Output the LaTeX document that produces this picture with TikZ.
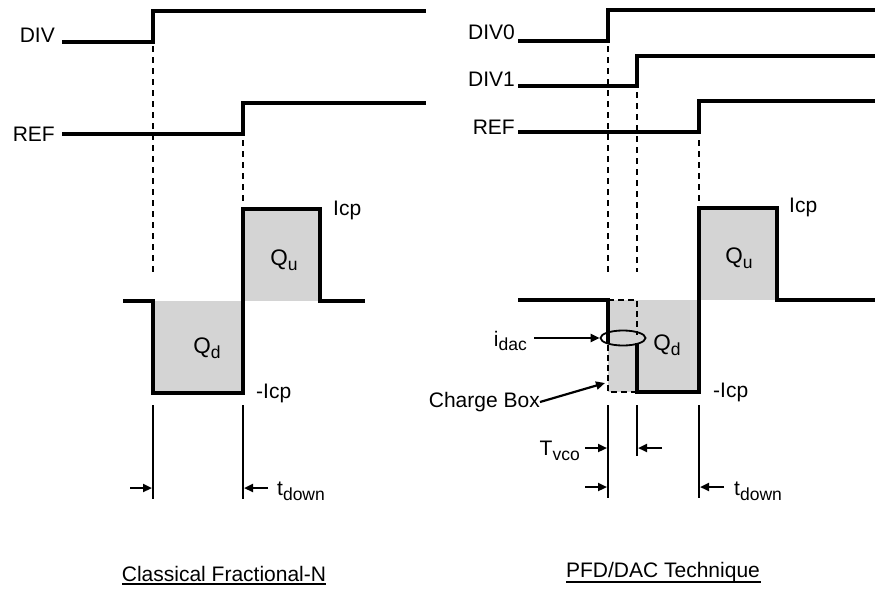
\documentclass[tikz,border=0pt]{standalone}
\usepackage{fontspec}
\setmainfont{Liberation Sans}
\usetikzlibrary{arrows.meta,shapes.geometric}
\newcommand\lowsub[1]{\raisebox{-0.42ex}{\fontsize{17.5}{18}\selectfont #1}}
\tikzset{
  wave/.style={line width=3.2pt, line join=miter},
  guide/.style={line width=2.2pt, dash pattern=on 6pt off 5pt},
  tick/.style={line width=2.2pt},
  cbox/.style={line width=2.6pt, dash pattern=on 6pt off 4pt},
  lbl/.style={font=\fontsize{21}{22}\selectfont, inner sep=0pt},
  qlbl/.style={font=\fontsize{22.5}{23}\selectfont, inner sep=0pt},
  tarr/.style={line width=2.2pt, -{Triangle[length=9pt,width=8pt]}},
  qfill/.style={fill=black!17},
}
\begin{document}
\begin{tikzpicture}[x=1pt,y=-1pt]
\useasboundingbox (0,0) rectangle (875,589);
% ---------------- LEFT PANEL ----------------
\fill[qfill] (153,301) rectangle (243,393);
\fill[qfill] (243,209) rectangle (320,301);
\node[lbl, anchor=east] (ldiv) at (55,35) {DIV};
\node[lbl, anchor=east] (lref) at (55,134) {REF};
\draw[wave] (62,42) -- (153,42) -- (153,11) -- (426,11);
\draw[wave] (62,134) -- (243,134) -- (243,103) -- (426,103);
\draw[guide] (153,46) -- (153,272);
\draw[guide] (243,140) -- (243,205);
\draw[wave] (123,301) -- (153,301) -- (153,393) -- (243,393) -- (243,209) -- (320,209) -- (320,301) -- (365,301);
\node[qlbl] (lqd) at (207,348) {Q\lowsub{d}};
\node[qlbl] (lqu) at (284,260) {Q\lowsub{u}};
\node[lbl, anchor=west] (licp) at (333,210) {Icp};
\node[lbl, anchor=west] (lnicp) at (256,393) {-Icp};
\coordinate (la) at (153,405); \coordinate (lb) at (153,499);
\coordinate (lc) at (243,405); \coordinate (ld) at (243,499);
\draw[tick] (la) -- (lb);
\draw[tick] (lc) -- (ld);
\coordinate (lar1) at (130,488); \coordinate (lar1e) at (152,488);
\coordinate (lar2) at (268,488); \coordinate (lar2e) at (244,488);
\draw[tarr] (lar1) -- (lar1e);
\draw[tarr] (lar2) -- (lar2e);
\node[lbl, anchor=west] (ltd) at (277,491) {t\lowsub{down}};
\node[lbl] (ltitle) at (224,574) {Classical Fractional-N};
\draw[line width=2pt] (122,584) -- (326,584);
% ---------------- RIGHT PANEL ----------------
\fill[qfill] (608,300) rectangle (699,392);
\fill[qfill] (699,208) rectangle (777,300);
\node[lbl, anchor=east] (rdiv0) at (515,32) {DIV0};
\node[lbl, anchor=east] (rdiv1) at (515,79) {DIV1};
\node[lbl, anchor=east] (rref) at (515,127) {REF};
\draw[wave] (518,41) -- (608,41) -- (608,10) -- (875,10);
\draw[wave] (518,86) -- (637,86) -- (637,56) -- (875,56);
\draw[wave] (518,132) -- (699,132) -- (699,101) -- (875,101);
\draw[guide] (608,46) -- (608,272);
\draw[guide] (637,92) -- (637,272);
\draw[guide] (699,140) -- (699,205);
% waveform
\draw[wave] (518,300) -- (608,300) -- (608,343);
\draw[cbox] (608,300) -- (637,300) -- (637,335);
\draw[cbox] (608,345) -- (608,392) -- (637,392);
\draw[wave] (637,343) -- (637,392) -- (699,392) -- (699,208) -- (777,208) -- (777,300) -- (875,300);
\node[draw, line width=1.8pt, ellipse, minimum width=45pt, minimum height=15pt, inner sep=0pt] (rell) at (623,338) {};
\node[qlbl] (rqd) at (667,345) {Q\lowsub{d}};
\node[qlbl] (rqu) at (739,258) {Q\lowsub{u}};
\node[lbl, anchor=west] (ricp) at (789,207) {Icp};
\node[lbl, anchor=west] (rnicp) at (713,392) {-Icp};
\node[lbl, anchor=east] (ridac) at (527,341) {i\lowsub{dac}};
\coordinate (ridacs) at (534,338);
\draw[tarr] (ridacs) -- (rell.west);
\node[lbl, anchor=east] (rcb) at (540,402) {Charge Box};
\coordinate (rcbt) at (605,383);
\draw[tarr] (rcb.east) -- (rcbt);
\coordinate (ra) at (608,405); \coordinate (rb) at (608,498);
\coordinate (rc) at (637,405); \coordinate (rd) at (637,456);
\coordinate (re) at (699,405); \coordinate (rf) at (699,498);
\draw[tick] (ra) -- (rb);
\draw[tick] (rc) -- (rd);
\draw[tick] (re) -- (rf);
\coordinate (rt1) at (585,448); \coordinate (rt1e) at (607,448);
\coordinate (rt2) at (662,448); \coordinate (rt2e) at (638,448);
\draw[tarr] (rt1) -- (rt1e);
\draw[tarr] (rt2) -- (rt2e);
\node[lbl, anchor=east] (rtvco) at (580,451) {T\lowsub{vco}};
\coordinate (rb1) at (585,487); \coordinate (rb1e) at (607,487);
\coordinate (rb2) at (724,487); \coordinate (rb2e) at (700,487);
\draw[tarr] (rb1) -- (rb1e);
\draw[tarr] (rb2) -- (rb2e);
\node[lbl, anchor=west] (rtd) at (734,491) {t\lowsub{down}};
\node[lbl] (rtitle) at (663,572) {PFD/DAC Technique};
\draw[line width=2pt] (566,582) -- (761,582);
\end{tikzpicture}
\end{document}
